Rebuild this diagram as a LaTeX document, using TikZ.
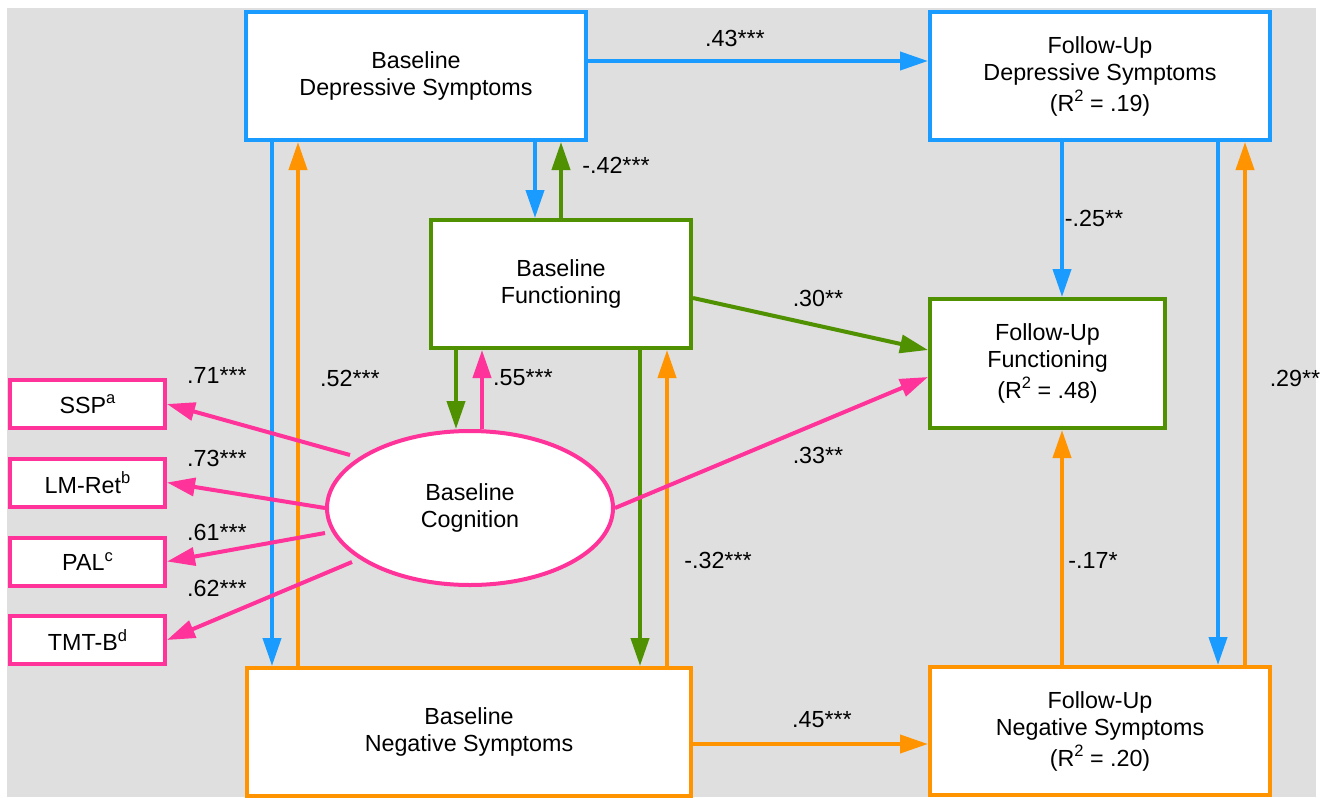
\documentclass[tikz,border=0pt]{standalone}
\usepackage{fontspec}
\setmainfont{Liberation Sans}
\usetikzlibrary{arrows.meta,shapes.geometric}
\definecolor{cblue}{HTML}{1A9BFF}
\definecolor{corange}{HTML}{FF9400}
\definecolor{cgreen}{HTML}{4F9100}
\definecolor{cpink}{HTML}{FF3399}
\definecolor{cbg}{HTML}{DFDFDF}
\newcommand\supr[1]{\raisebox{0.42em}{\fontsize{16.5}{16.5}\selectfont #1}}
\begin{document}
\begin{tikzpicture}[x=1pt,y=-1pt,
  font=\fontsize{23.3}{27}\selectfont,
  box/.style={draw, fill=white, line width=4pt, align=center, inner sep=0pt},
  bigbox/.style={box, minimum width=340pt, minimum height=128pt},
  indbox/.style={box, draw=cpink, minimum width=155pt, minimum height=48pt},
  arr/.style={line width=4pt, -{Triangle[length=28pt,width=18pt]}},
  lbl/.style={inner sep=0pt},
]
\useasboundingbox (0,0) rectangle (1321,797);
\clip (0,0) rectangle (1321,797);
\fill[cbg] (7,8) rectangle (1316,797);

% main boxes
\node[bigbox, draw=cblue] (bds) at (416,76) {Baseline\\Depressive Symptoms};
\node[bigbox, draw=cblue] (fuds) at (1100,76) {Follow-Up\\Depressive Symptoms\\[4pt](R\supr{2} = .19)};
\node[box, draw=cgreen, minimum width=260pt, minimum height=128pt] (bf) at (561,284) {Baseline\\Functioning};
\node[box, draw=cgreen, minimum width=235pt, minimum height=129pt] (fuf) at (1047.5,363.5) {Follow-Up\\Functioning\\[4pt](R\supr{2} = .48)};
\node[box, draw=corange, minimum width=444pt, minimum height=128pt] (bns) at (469,732) {Baseline\\Negative Symptoms};
\node[bigbox, draw=corange] (funs) at (1100,731) {Follow-Up\\Negative Symptoms\\[4pt](R\supr{2} = .20)};
\node[draw=cpink, fill=white, line width=4pt, ellipse, minimum width=286pt, minimum height=154pt, inner sep=0pt, align=center] (cog) at (470,508) {Baseline\\Cognition};

% indicators
\node[indbox] (ssp) at (87.5,404) {SSP\supr{a}};
\node[indbox] (lmr) at (87.5,482.5) {LM-Ret\supr{b}};
\node[indbox] (pal) at (87.5,561.5) {PAL\supr{c}};
\node[indbox] (tmt) at (87.5,640) {TMT-B\supr{d}};

% connectors
\draw[arr, cblue] (bds.east |- 0,61) -- (fuds.west |- 0,61);
\draw[arr, cblue] (bds.south -| 272,0) -- (bns.north -| 272,0);
\draw[arr, corange] (bns.north -| 298,0) -- (bds.south -| 298,0);
\draw[arr, cblue] (bds.south -| 535,0) -- (bf.north -| 535,0);
\draw[arr, cgreen] (bf.north -| 561,0) -- (bds.south -| 561,0);
\draw[arr, cgreen] (bf.south -| 456,0) -- (cog.north -| 456,0);
\draw[arr, cpink] (cog.north -| 482,0) -- (bf.south -| 482,0);
\draw[arr, cgreen] (bf.south -| 640,0) -- (bns.north -| 640,0);
\draw[arr, corange] (bns.north -| 667,0) -- (bf.south -| 667,0);
\draw[arr, cgreen] (bf.east |- 0,298) -- (fuf.west |- 0,350);
\draw[arr, cpink] (cog.east) -- (fuf.west |- 0,377);
\draw[arr, cblue] (fuds.south -| 1062,0) -- (fuf.north -| 1062,0);
\draw[arr, corange] (funs.north -| 1062,0) -- (fuf.south -| 1062,0);
\draw[arr, cblue] (fuds.south -| 1218,0) -- (funs.north -| 1218,0);
\draw[arr, corange] (funs.north -| 1245,0) -- (fuds.south -| 1245,0);
\draw[arr, corange] (bns.east |- 0,744) -- (funs.west |- 0,744);

\coordinate (c1) at (350,455);
\coordinate (c2) at (325,508);
\coordinate (c3) at (325,533);
\coordinate (c4) at (352,562);
\draw[arr, cpink] (c1) -- (ssp.east);
\draw[arr, cpink] (c2) -- (lmr.east);
\draw[arr, cpink] (c3) -- (pal.east);
\draw[arr, cpink] (c4) -- (tmt.east);

% labels
\node[lbl] (l43) at (735,38) {.43***};
\node[lbl] (l42) at (616,165) {-.42***};
\node[lbl] (l30) at (818,298) {.30**};
\node[lbl] (l33) at (818,455) {.33**};
\node[lbl] (l25) at (1094,218) {-.25**};
\node[lbl] (l17) at (1093,560) {-.17*};
\node[lbl] (l29) at (1295,378) {.29**};
\node[lbl] (l45) at (822,720) {.45***};
\node[lbl] (l52) at (350,378) {.52***};
\node[lbl] (l55) at (523,378) {.55***};
\node[lbl] (l32) at (718,560) {-.32***};
\node[lbl] (l71) at (217,375) {.71***};
\node[lbl] (l73) at (217,458) {.73***};
\node[lbl] (l61) at (217,532) {.61***};
\node[lbl] (l62) at (217,588) {.62***};
\end{tikzpicture}
\end{document}
